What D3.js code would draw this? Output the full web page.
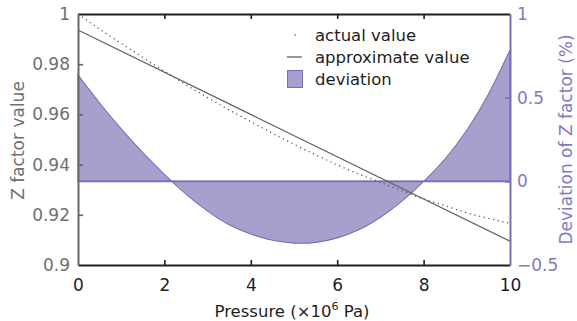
<!DOCTYPE html>
<html>
<head>
<meta charset="utf-8">
<script src="https://cdn.jsdelivr.net/npm/d3@7"></script>
<style>
  html, body { margin: 0; padding: 0; background: #fff; }
  svg { display: block; }
  svg text { font-family: "DejaVu Sans", sans-serif; }
</style>
</head>
<body>
<svg id="chart" width="577" height="321"></svg>
<script>
// Pressure grid (×10^6 Pa)
const pressure = [0, 0.5, 1, 1.5, 2, 2.5, 3, 3.5, 4, 4.5, 5, 5.5, 6, 6.5, 7, 7.5, 8, 8.5, 9, 9.5, 10];
// Measured Z factor
const actualZ = [1.0000, 0.9940, 0.9883, 0.9827, 0.9772, 0.9718, 0.9667, 0.9618, 0.9571, 0.9525, 0.9481,
                 0.9439, 0.9399, 0.9362, 0.9329, 0.9295, 0.9263, 0.9236, 0.9208, 0.9186, 0.9166];
// Linear approximation end points
const approxP = [0, 10];
const approxZ = [0.9936, 0.9095];
// Relative deviation (%)
const deviation = [0.635, 0.468, 0.314, 0.172, 0.042, -0.076, -0.178, -0.260, -0.315, -0.352, -0.369,
                   -0.365, -0.338, -0.29, -0.215, -0.118, 0.0, 0.135, 0.305, 0.52, 0.785];
// Tick values
const xTicks = [0, 2, 4, 6, 8, 10];
const zTicks = [0.9, 0.92, 0.94, 0.96, 0.98, 1];
const devTicks = [-0.5, 0, 0.5, 1];
const legendItems = ["actual value", "approximate value", "deviation"];

const purple = "#7b6db5";
const purpleFill = "#a99fcc";
const purpleText = "#8479bf";
const grayAxis = "#666";
const grayText = "#707070";
const dark = "#1e1e1e";

const svg = d3.select("#chart");
const m = { left: 78, right: 510, top: 14, bottom: 265 };

const x = d3.scaleLinear().domain([0, 10]).range([m.left, m.right]);
const yZ = d3.scaleLinear().domain([0.9, 1]).range([m.bottom, m.top]);
const yD = d3.scaleLinear().domain([-0.5, 1]).range([m.bottom, m.top]);

// Deviation band around zero
const area = d3.area()
  .x((d, i) => x(pressure[i]))
  .y0(() => yD(0))
  .y1(d => yD(d))
  .curve(d3.curveNatural);
svg.append("path")
  .datum(deviation)
  .attr("d", area)
  .attr("fill", purpleFill)
  .attr("stroke", purple)
  .attr("stroke-width", 1.1);
svg.append("line")
  .attr("x1", x(0)).attr("x2", x(10))
  .attr("y1", yD(0)).attr("y2", yD(0))
  .attr("stroke", purple).attr("stroke-width", 1.6);

// Approximate (straight) line
svg.append("path")
  .datum(approxP.map((p, i) => [p, approxZ[i]]))
  .attr("d", d3.line().x(d => x(d[0])).y(d => yZ(d[1])))
  .attr("fill", "none")
  .attr("stroke", "#616161")
  .attr("stroke-width", 1.2);

// Actual values, dotted
svg.append("path")
  .datum(actualZ)
  .attr("d", d3.line().x((d, i) => x(pressure[i])).y(d => yZ(d)).curve(d3.curveNatural))
  .attr("fill", "none")
  .attr("stroke", "#555")
  .attr("stroke-width", 1.3)
  .attr("stroke-dasharray", "1.2,3.6");

// Axes
function styleAxis(g, color, textColor) {
  g.attr("font-family", null);
  g.select(".domain").attr("stroke", color).attr("stroke-width", 2);
  g.selectAll(".tick line").attr("stroke", color).attr("stroke-width", 1.6);
  g.selectAll(".tick text").attr("fill", textColor).style("font-size", "17px");
}

const axisB = svg.append("g").attr("transform", `translate(0,${m.bottom})`)
  .call(d3.axisBottom(x).tickValues(xTicks).tickSizeInner(-5).tickSizeOuter(0).tickPadding(14));
styleAxis(axisB, dark, dark);
axisB.selectAll(".tick").filter(d => d === 0 || d === 10).select("line").remove();

const axisT = svg.append("g").attr("transform", `translate(0,${m.top})`)
  .call(d3.axisTop(x).tickValues(xTicks).tickSizeInner(-5).tickSizeOuter(0).tickFormat(""));
styleAxis(axisT, dark, dark);
axisT.selectAll(".tick").filter(d => d === 0 || d === 10).select("line").remove();

const axisL = svg.append("g").attr("transform", `translate(${m.left},0)`)
  .call(d3.axisLeft(yZ).tickValues(zTicks).tickSizeInner(-5).tickSizeOuter(0).tickPadding(8)
    .tickFormat(d => String(+d.toFixed(2))));
styleAxis(axisL, grayAxis, grayText);
axisL.selectAll(".tick").filter(d => d === 0.9 || d === 1).select("line").remove();

const axisR = svg.append("g").attr("transform", `translate(${m.right},0)`)
  .call(d3.axisRight(yD).tickValues(devTicks).tickSizeInner(-5).tickSizeOuter(0).tickPadding(7)
    .tickFormat(d => d < 0 ? "\u2212" + Math.abs(d) : String(d)));
styleAxis(axisR, purple, purpleText);
axisR.selectAll(".tick").filter(d => d === -0.5 || d === 1).select("line").remove();

// Axis titles
svg.append("text")
  .attr("transform", "translate(292,317)")
  .attr("text-anchor", "middle")
  .attr("fill", dark)
  .style("font-size", "16.5px")
  .call(t => {
    t.append("tspan").text("Pressure (\u00d710");
    t.append("tspan").attr("dy", -7).style("font-size", "11px").text("6");
    t.append("tspan").attr("dy", 7).text(" Pa)");
  });

svg.append("text")
  .attr("transform", `translate(24,${(m.top + m.bottom) / 2 + 1}) rotate(-90)`)
  .attr("text-anchor", "middle")
  .attr("fill", grayText)
  .style("font-size", "17px")
  .text("Z factor value");

svg.append("text")
  .attr("transform", `translate(572,${(m.top + m.bottom) / 2}) rotate(-90)`)
  .attr("text-anchor", "middle")
  .attr("fill", purpleText)
  .style("font-size", "17px")
  .text("Deviation of Z factor (%)");

// Legend
const lg = svg.append("g").attr("transform", "translate(287,0)");
const rowY = [35, 57, 79];
lg.append("circle").attr("cx", 8).attr("cy", rowY[0]).attr("r", 0.8).attr("fill", "#444");
lg.append("line").attr("x1", 0).attr("x2", 15).attr("y1", rowY[1]).attr("y2", rowY[1])
  .attr("stroke", "#616161").attr("stroke-width", 1.3);
lg.append("rect").attr("x", 0.5).attr("y", rowY[2] - 8.5).attr("width", 15).attr("height", 17)
  .attr("fill", purpleFill).attr("stroke", purple).attr("stroke-width", 1);
lg.selectAll("text.item").data(legendItems).join("text")
  .attr("class", "item")
  .attr("x", 28)
  .attr("y", (d, i) => rowY[i] + 6)
  .attr("fill", dark)
  .style("font-size", "16.5px")
  .text(d => d);
</script>
</body>
</html>
